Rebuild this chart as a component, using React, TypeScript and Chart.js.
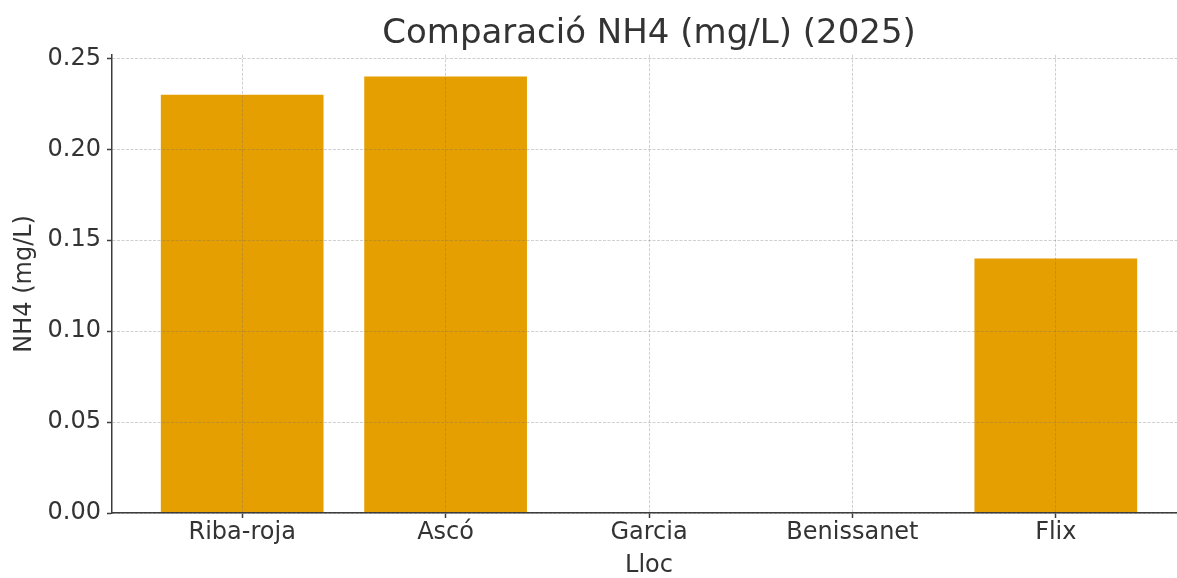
import React, { useEffect, useRef } from "react";
import { Chart, registerables } from "chart.js";

Chart.register(...registerables);

const categories: string[] = ["Riba-roja", "Ascó", "Garcia", "Benissanet", "Flix"];
const nh4Values: (number | null)[] = [0.23, 0.24, null, null, 0.14];
const yTicks: number[] = [0, 0.05, 0.1, 0.15, 0.2, 0.25];
const titleText = "Comparació NH4 (mg/L) (2025)";
const xLabel = "Lloc";
const yLabel = "NH4 (mg/L)";

const FONT = "'DejaVu Sans', sans-serif";
const TEXT = "#333333";
const AXIS = "#3d3d3d";

export default function App() {
  const ref = useRef<HTMLCanvasElement | null>(null);
  useEffect(() => {
    document.body.style.margin = "0";
    const canvas = ref.current;
    if (!canvas) return;
    const chart = new Chart(canvas, {
      type: "bar",
      data: {
        datasets: [
          {
            label: yLabel,
            data: categories.map((_, i) => ({ x: i, y: nh4Values[i] })) as any,
            backgroundColor: "#E69F00",
            borderWidth: 0,
            barPercentage: 0.8,
            categoryPercentage: 1,
          },
        ],
      },
      options: {
        responsive: false,
        animation: false,
        layout: { padding: 0 },
        plugins: {
          legend: { display: false },
          tooltip: { enabled: false },
          title: {
            display: true,
            text: titleText,
            fullSize: false,
            color: TEXT,
            font: { family: FONT, size: 34, weight: "normal" as any },
            padding: { top: 14, bottom: 0 },
          },
        },
        scales: {
          x: {
            type: "linear",
            position: "bottom",
            offset: false,
            min: -0.64,
            max: 4.64,
            afterBuildTicks: (scale: any) => {
              scale.ticks = categories.map((_, i) => ({ value: i }));
            },
            afterFit: (scale: any) => {
              scale.height = 65;
            },
            ticks: {
              autoSkip: false,
              maxRotation: 0,
              color: TEXT,
              padding: 0.5,
              font: { family: FONT, size: 24 },
              callback: (v: any) => categories[Math.round(Number(v))] ?? "",
            },
            grid: {
              offset: false,
              color: "rgba(110,110,110,0.32)",
              lineWidth: 1,
              z: 1,
              drawTicks: true,
              tickLength: 5,
              tickColor: AXIS,
              tickWidth: 1.5,
              tickBorderDash: [],
            },
            border: { display: true, color: AXIS, width: 1.5, dash: [3, 1.5], z: 2 },
            title: {
              display: true,
              text: xLabel,
              color: TEXT,
              font: { family: FONT, size: 24, lineHeight: 1 },
              padding: { top: 0, bottom: 0 },
            },
          },
          y: {
            type: "linear",
            position: "left",
            min: 0,
            max: 0.252,
            afterBuildTicks: (scale: any) => {
              scale.ticks = yTicks.map((v) => ({ value: v }));
            },
            afterFit: (scale: any) => {
              scale.width = 112;
            },
            ticks: {
              color: TEXT,
              padding: 6,
              font: { family: FONT, size: 24 },
              callback: (v: any) => Number(v).toFixed(2),
            },
            grid: {
              color: "rgba(110,110,110,0.32)",
              lineWidth: 1,
              z: 1,
              drawTicks: true,
              tickLength: 5,
              tickColor: AXIS,
              tickWidth: 1.5,
              tickBorderDash: [],
            },
            border: { display: true, color: AXIS, width: 1.5, dash: [3, 1.5], z: 2 },
            title: {
              display: true,
              text: yLabel,
              color: TEXT,
              font: { family: FONT, size: 24 },
              padding: { top: 10, bottom: 0 },
            },
          },
        },
      },
    });
    return () => chart.destroy();
  }, []);
  return (
    <div style={{ width: 1177, height: 578, overflow: "hidden", position: "relative", background: "#fff" }}>
      <canvas ref={ref} width={1186} height={578} style={{ display: "block" }} />
    </div>
  );
}
